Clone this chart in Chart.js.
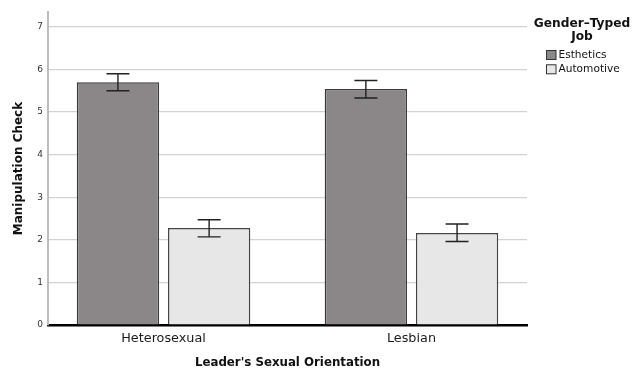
<!DOCTYPE html>
<html>
<head>
<meta charset="utf-8">
<script src="https://cdn.jsdelivr.net/npm/chart.js@4/dist/chart.umd.min.js"></script>
<style>
  html, body { margin: 0; padding: 0; background: #ffffff; }
  #wrap { width: 643px; height: 370px; position: relative; }
</style>
</head>
<body>
<div id="wrap"><canvas id="c" width="643" height="370"></canvas></div>
<script>
// Categories on the x axis
const orientations = ["Heterosexual", "Lesbian"];
// Group (legend) labels
const jobTypes = ["Esthetics", "Automotive"];
// Mean manipulation-check scores
const estheticsMeans = [5.70, 5.54];
const automotiveMeans = [2.28, 2.16];
// Error bar limits (lower / upper)
const estheticsLow = [5.50, 5.33];
const estheticsHigh = [5.90, 5.74];
const automotiveLow = [2.07, 1.96];
const automotiveHigh = [2.47, 2.37];
// Y tick values shown
const yTickValues = [0, 1, 2, 3, 4, 5, 6, 7];

const FONT = "'DejaVu Sans', sans-serif";

const toPoints = (vals) => vals.map((v, i) => ({ x: i, y: v }));

// Draws the whisker lines with caps on each bar
const errorBars = {
  id: 'errorBars',
  afterDatasetsDraw(chart) {
    const ctx = chart.ctx;
    const yScale = chart.scales.y;
    ctx.save();
    ctx.strokeStyle = '#222222';
    ctx.lineWidth = 1.4;
    chart.data.datasets.forEach((ds, di) => {
      const meta = chart.getDatasetMeta(di);
      meta.data.forEach((bar, i) => {
        const x = bar.x;
        const yLo = yScale.getPixelForValue(ds.errLow[i]);
        const yHi = yScale.getPixelForValue(ds.errHigh[i]);
        const cap = 11.5;
        ctx.beginPath();
        ctx.moveTo(x, yLo); ctx.lineTo(x, yHi);
        ctx.moveTo(x - cap, yHi); ctx.lineTo(x + cap, yHi);
        ctx.moveTo(x - cap, yLo); ctx.lineTo(x + cap, yLo);
        ctx.stroke();
      });
    });
    ctx.restore();
  }
};

// Legend with a two-line title, placed to the right of the plot
const sideLegend = {
  id: 'sideLegend',
  afterDraw(chart) {
    const ctx = chart.ctx;
    ctx.save();
    ctx.fillStyle = '#111111';
    ctx.font = "bold 12.2px " + FONT;
    ctx.textAlign = 'center';
    ctx.textBaseline = 'middle';
    ctx.fillText('Gender–Typed', 582, 23.5);
    ctx.fillText('Job', 582, 37);
    ctx.font = "10.6px " + FONT;
    ctx.textAlign = 'left';
    chart.data.datasets.forEach((ds, i) => {
      const y = 50 + i * 14.3;
      ctx.fillStyle = ds.backgroundColor;
      ctx.fillRect(546, y, 10, 9.5);
      ctx.strokeStyle = '#333333';
      ctx.lineWidth = 1;
      ctx.strokeRect(546.5, y + 0.5, 9.5, 9);
      ctx.fillStyle = '#111111';
      ctx.fillText(ds.label, 558.5, y + 5);
    });
    ctx.restore();
  }
};

new Chart(document.getElementById('c'), {
  type: 'bar',
  data: {
    datasets: [
      {
        label: jobTypes[0],
        data: toPoints(estheticsMeans),
        errLow: estheticsLow,
        errHigh: estheticsHigh,
        backgroundColor: '#8b8788',
        borderColor: '#3a3a3a',
        borderWidth: 1.5
      },
      {
        label: jobTypes[1],
        data: toPoints(automotiveMeans),
        errLow: automotiveLow,
        errHigh: automotiveHigh,
        backgroundColor: '#e6e7e6',
        borderColor: '#444444',
        borderWidth: 1.5
      }
    ]
  },
  options: {
    responsive: false,
    animation: false,
    devicePixelRatio: 1,
    layout: { padding: { top: 12, right: 116, left: 0, bottom: 0 } },
    categoryPercentage: 0.7356,
    barPercentage: 0.903,
    plugins: {
      legend: { display: false },
      tooltip: { enabled: false }
    },
    scales: {
      x: {
        type: 'linear',
        offset: false,
        bounds: 'data',
        min: -0.466,
        max: 1.466,
        afterBuildTicks(scale) {
          scale.ticks = orientations.map((_, i) => ({ value: i }));
        },
        afterFit(scale) { scale.height = 45; },
        grid: { display: false, drawTicks: false },
        border: { display: true, color: '#000000', width: 2.6 },
        ticks: {
          padding: 6,
          color: '#1a1a1a',
          font: { family: FONT, size: 12.8 },
          maxRotation: 0,
          callback: (v) => orientations[v] ?? ''
        },
        title: {
          display: true,
          text: "Leader's Sexual Orientation",
          color: '#111111',
          font: { family: FONT, size: 11.8, weight: 'bold' },
          padding: { top: 7, bottom: 0 }
        }
      },
      y: {
        min: 0,
        max: 7.35,
        afterBuildTicks(scale) {
          scale.ticks = yTickValues.map(v => ({ value: v }));
        },
        afterFit(scale) { scale.width = 48; },
        grid: { color: '#d2d2d2', lineWidth: 1.2, drawTicks: false },
        border: { display: true, color: '#bdbdbd', width: 2 },
        ticks: {
          padding: 5,
          color: '#333333',
          font: { family: FONT, size: 9 }
        },
        title: {
          display: true,
          text: 'Manipulation Check',
          color: '#111111',
          font: { family: FONT, size: 12, weight: 'bold' },
          padding: { top: 12, bottom: 0 }
        }
      }
    }
  },
  plugins: [errorBars, sideLegend]
});
</script>
</body>
</html>
